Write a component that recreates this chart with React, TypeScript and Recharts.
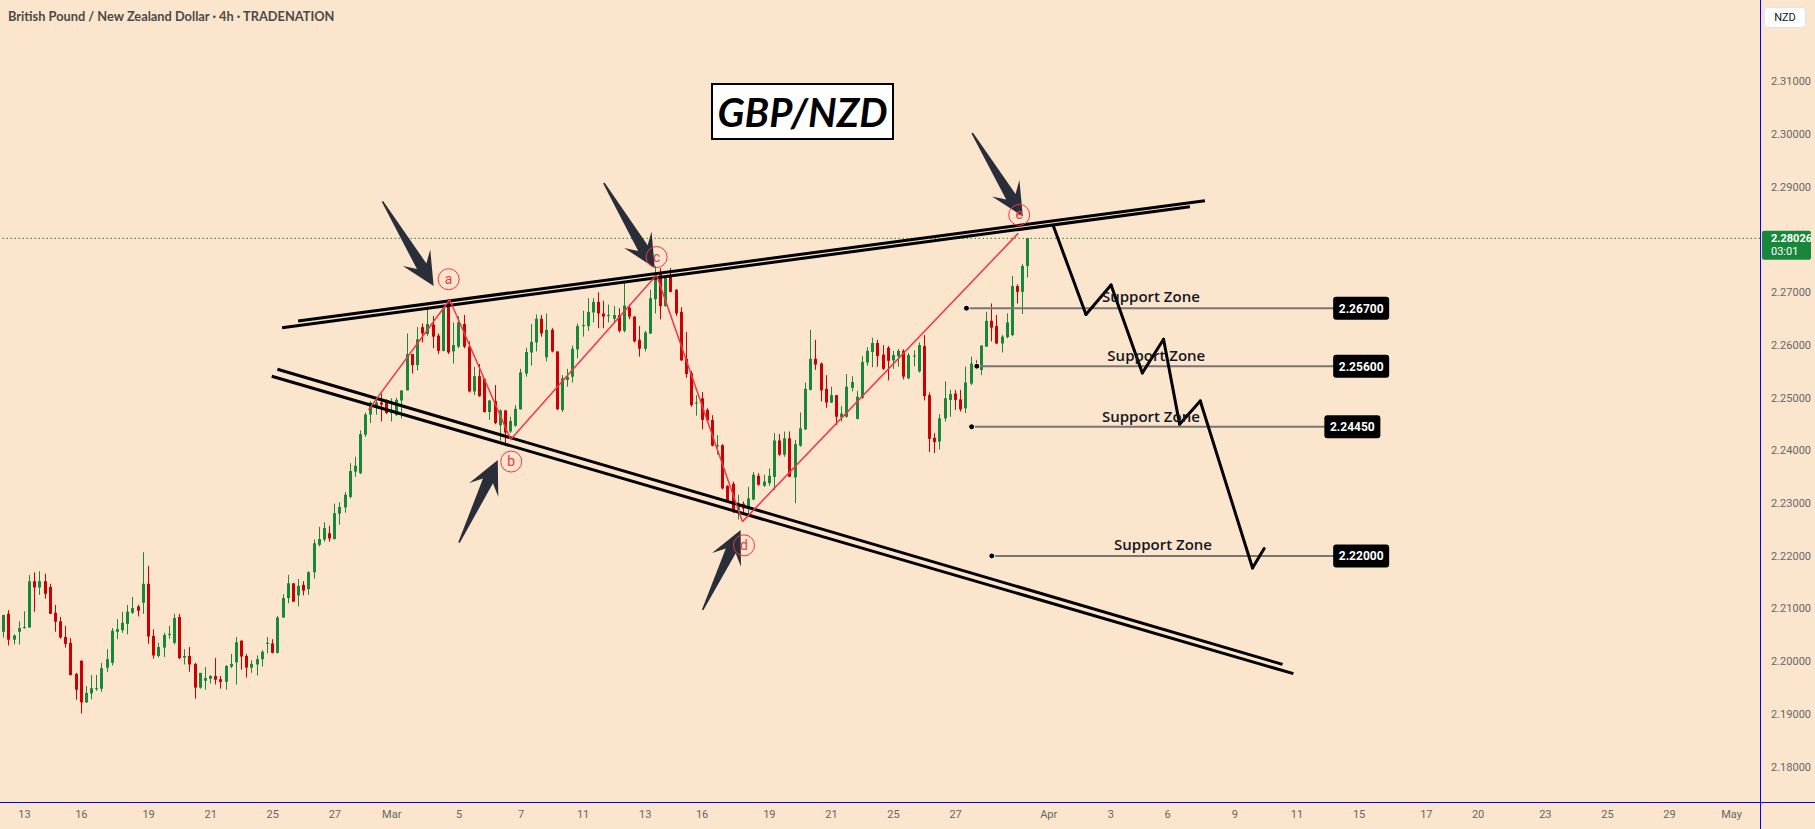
import React from 'react';
import { ComposedChart, Bar, XAxis, YAxis, ReferenceLine, ReferenceDot } from 'recharts';

// GBP/NZD 4h candles
const opens = [
  2.2001, 2.2056, 2.2090, 2.2041, 2.2056, 2.2064, 2.2064, 2.2152, 2.2140, 2.2152,
  2.2141, 2.2092, 2.2076, 2.2046, 2.2035, 2.1976, 2.2001, 2.1922, 2.1939, 2.1947,
  2.1948, 2.1988, 2.1997, 2.2056, 2.2059, 2.2071, 2.2092, 2.2104, 2.2111, 2.2147,
  2.2048, 2.2010, 2.2026, 2.2051, 2.2035, 2.2084, 2.2007, 2.2010, 2.1995, 2.1950,
  2.1963, 2.1967, 2.1972, 2.1966, 2.1961, 2.1990, 2.1998, 2.2039, 2.2010, 2.1988,
  2.1994, 2.2004, 2.2033, 2.2034, 2.2016, 2.2083, 2.2120, 2.2148, 2.2125, 2.2145,
  2.2137, 2.2169, 2.2221, 2.2231, 2.2243, 2.2232, 2.2280, 2.2292, 2.2312, 2.2360,
  2.2357, 2.2430, 2.2468, 2.2482, 2.2491, 2.2492, 2.2471, 2.2467, 2.2495, 2.2514,
  2.2583, 2.2562, 2.2634, 2.2621, 2.2639, 2.2618, 2.2589, 2.2683, 2.2588, 2.2597,
  2.2640, 2.2597, 2.2512, 2.2541, 2.2536, 2.2473, 2.2494, 2.2448, 2.2476, 2.2436,
  2.2447, 2.2478, 2.2546, 2.2586, 2.2605, 2.2650, 2.2577, 2.2629, 2.2588, 2.2477,
  2.2534, 2.2540, 2.2592, 2.2637, 2.2636, 2.2662, 2.2682, 2.2660, 2.2655, 2.2650,
  2.2657, 2.2627, 2.2671, 2.2654, 2.2610, 2.2593, 2.2622, 2.2687, 2.2735, 2.2674,
  2.2730, 2.2705, 2.2663, 2.2574, 2.2547, 2.2490, 2.2499, 2.2477, 2.2458, 2.2409,
  2.2410, 2.2333, 2.2337, 2.2287, 2.2299, 2.2290, 2.2307, 2.2352, 2.2333, 2.2338,
  2.2350, 2.2419, 2.2392, 2.2423, 2.2349, 2.2409, 2.2440, 2.2515, 2.2574, 2.2565,
  2.2517, 2.2491, 2.2505, 2.2463, 2.2464, 2.2519, 2.2460, 2.2500, 2.2567, 2.2587,
  2.2604, 2.2582, 2.2595, 2.2571, 2.2579, 2.2589, 2.2537, 2.2579, 2.2550, 2.2598,
  2.2505, 2.2424, 2.2417, 2.2461, 2.2496, 2.2508, 2.2497, 2.2480, 2.2527, 2.2565,
  2.2553, 2.2597, 2.2646, 2.2636, 2.2603, 2.2615, 2.2619, 2.2712, 2.2701, 2.2750,
];
const highs = [
  2.2062, 2.2088, 2.2097, 2.2051, 2.2076, 2.2095, 2.2164, 2.2169, 2.2171, 2.2166,
  2.2147, 2.2107, 2.2084, 2.2067, 2.2044, 2.1978, 2.2002, 2.1953, 2.1974, 2.1974,
  2.1997, 2.2023, 2.2063, 2.2080, 2.2094, 2.2107, 2.2122, 2.2107, 2.2207, 2.2181,
  2.2061, 2.2035, 2.2054, 2.2067, 2.2090, 2.2090, 2.2023, 2.2027, 2.1997, 2.1978,
  2.1989, 2.1974, 2.2006, 2.1972, 2.1993, 2.2014, 2.2046, 2.2040, 2.2014, 2.2002,
  2.2011, 2.2021, 2.2046, 2.2042, 2.2086, 2.2127, 2.2164, 2.2148, 2.2156, 2.2152,
  2.2171, 2.2231, 2.2255, 2.2264, 2.2257, 2.2299, 2.2302, 2.2321, 2.2376, 2.2388,
  2.2438, 2.2472, 2.2493, 2.2500, 2.2508, 2.2497, 2.2499, 2.2500, 2.2514, 2.2622,
  2.2583, 2.2634, 2.2641, 2.2669, 2.2655, 2.2622, 2.2670, 2.2687, 2.2643, 2.2655,
  2.2657, 2.2607, 2.2559, 2.2564, 2.2537, 2.2495, 2.2524, 2.2478, 2.2477, 2.2464,
  2.2486, 2.2555, 2.2595, 2.2640, 2.2658, 2.2657, 2.2660, 2.2632, 2.2588, 2.2543,
  2.2555, 2.2599, 2.2641, 2.2665, 2.2689, 2.2689, 2.2700, 2.2684, 2.2677, 2.2674,
  2.2670, 2.2721, 2.2677, 2.2655, 2.2636, 2.2627, 2.2705, 2.2750, 2.2746, 2.2731,
  2.2746, 2.2706, 2.2672, 2.2625, 2.2551, 2.2505, 2.2511, 2.2480, 2.2467, 2.2429,
  2.2412, 2.2334, 2.2341, 2.2316, 2.2303, 2.2331, 2.2359, 2.2357, 2.2354, 2.2366,
  2.2433, 2.2431, 2.2436, 2.2436, 2.2420, 2.2472, 2.2529, 2.2629, 2.2610, 2.2567,
  2.2543, 2.2521, 2.2505, 2.2484, 2.2545, 2.2541, 2.2513, 2.2579, 2.2596, 2.2614,
  2.2610, 2.2600, 2.2598, 2.2589, 2.2593, 2.2592, 2.2585, 2.2590, 2.2605, 2.2619,
  2.2510, 2.2433, 2.2469, 2.2531, 2.2515, 2.2515, 2.2515, 2.2559, 2.2578, 2.2571,
  2.2600, 2.2663, 2.2679, 2.2657, 2.2619, 2.2660, 2.2731, 2.2715, 2.2754, 2.2803,
];
const lows = [
  2.1996, 2.2045, 2.2030, 2.2032, 2.2032, 2.2062, 2.2064, 2.2094, 2.2126, 2.2119,
  2.2090, 2.2056, 2.2043, 2.2026, 2.1973, 2.1927, 2.1901, 2.1921, 2.1928, 2.1944,
  2.1942, 2.1980, 2.1992, 2.2042, 2.2054, 2.2051, 2.2090, 2.2085, 2.2090, 2.2033,
  2.2005, 2.2007, 2.2008, 2.2043, 2.2032, 2.2004, 2.1994, 2.1980, 2.1929, 2.1948,
  2.1946, 2.1958, 2.1956, 2.1948, 2.1946, 2.1987, 2.1956, 2.1984, 2.1969, 2.1978,
  2.1973, 2.1990, 2.2015, 2.2015, 2.2015, 2.2083, 2.2110, 2.2113, 2.2104, 2.2125,
  2.2126, 2.2157, 2.2218, 2.2227, 2.2227, 2.2231, 2.2259, 2.2282, 2.2309, 2.2350,
  2.2355, 2.2426, 2.2452, 2.2468, 2.2455, 2.2469, 2.2455, 2.2466, 2.2461, 2.2514,
  2.2546, 2.2552, 2.2605, 2.2617, 2.2594, 2.2583, 2.2588, 2.2583, 2.2565, 2.2594,
  2.2594, 2.2510, 2.2505, 2.2502, 2.2472, 2.2458, 2.2450, 2.2419, 2.2409, 2.2433,
  2.2445, 2.2478, 2.2540, 2.2561, 2.2588, 2.2616, 2.2569, 2.2586, 2.2477, 2.2473,
  2.2521, 2.2529, 2.2575, 2.2616, 2.2627, 2.2643, 2.2632, 2.2632, 2.2643, 2.2641,
  2.2624, 2.2624, 2.2649, 2.2605, 2.2578, 2.2588, 2.2621, 2.2660, 2.2649, 2.2673,
  2.2700, 2.2655, 2.2570, 2.2538, 2.2483, 2.2466, 2.2440, 2.2453, 2.2408, 2.2392,
  2.2326, 2.2303, 2.2281, 2.2269, 2.2281, 2.2278, 2.2306, 2.2333, 2.2331, 2.2333,
  2.2325, 2.2390, 2.2388, 2.2350, 2.2300, 2.2407, 2.2439, 2.2514, 2.2553, 2.2493,
  2.2481, 2.2490, 2.2448, 2.2455, 2.2462, 2.2512, 2.2459, 2.2498, 2.2561, 2.2558,
  2.2559, 2.2553, 2.2533, 2.2555, 2.2559, 2.2535, 2.2535, 2.2560, 2.2548, 2.2495,
  2.2397, 2.2395, 2.2402, 2.2455, 2.2464, 2.2477, 2.2474, 2.2471, 2.2524, 2.2556,
  2.2543, 2.2597, 2.2607, 2.2602, 2.2586, 2.2613, 2.2617, 2.2679, 2.2659, 2.2728,
];
const closes = [
  2.2058, 2.2088, 2.2041, 2.2049, 2.2063, 2.2065, 2.2152, 2.2140, 2.2152, 2.2128,
  2.2090, 2.2075, 2.2045, 2.2033, 2.1974, 2.1946, 2.1922, 2.1940, 2.1949, 2.1949,
  2.1987, 2.2004, 2.2058, 2.2061, 2.2073, 2.2094, 2.2101, 2.2096, 2.2147, 2.2047,
  2.2011, 2.2027, 2.2050, 2.2052, 2.2082, 2.2006, 2.2010, 2.1994, 2.1950, 2.1978,
  2.1968, 2.1972, 2.1965, 2.1961, 2.1991, 2.1995, 2.2036, 2.2009, 2.1988, 2.1995,
  2.2004, 2.2018, 2.2035, 2.2016, 2.2083, 2.2120, 2.2148, 2.2113, 2.2143, 2.2134,
  2.2169, 2.2224, 2.2232, 2.2253, 2.2233, 2.2281, 2.2293, 2.2316, 2.2361, 2.2371,
  2.2431, 2.2468, 2.2491, 2.2491, 2.2487, 2.2471, 2.2474, 2.2496, 2.2514, 2.2583,
  2.2562, 2.2611, 2.2622, 2.2640, 2.2616, 2.2589, 2.2670, 2.2586, 2.2600, 2.2643,
  2.2597, 2.2512, 2.2541, 2.2503, 2.2473, 2.2495, 2.2452, 2.2476, 2.2434, 2.2456,
  2.2479, 2.2548, 2.2587, 2.2606, 2.2650, 2.2622, 2.2629, 2.2588, 2.2478, 2.2537,
  2.2540, 2.2593, 2.2636, 2.2638, 2.2663, 2.2682, 2.2660, 2.2654, 2.2657, 2.2657,
  2.2627, 2.2675, 2.2654, 2.2607, 2.2593, 2.2624, 2.2689, 2.2736, 2.2674, 2.2730,
  2.2701, 2.2660, 2.2571, 2.2545, 2.2486, 2.2491, 2.2458, 2.2457, 2.2409, 2.2410,
  2.2328, 2.2306, 2.2287, 2.2299, 2.2290, 2.2309, 2.2354, 2.2335, 2.2341, 2.2352,
  2.2419, 2.2392, 2.2423, 2.2350, 2.2412, 2.2442, 2.2517, 2.2574, 2.2563, 2.2514,
  2.2491, 2.2505, 2.2464, 2.2470, 2.2521, 2.2530, 2.2502, 2.2568, 2.2589, 2.2604,
  2.2579, 2.2555, 2.2570, 2.2581, 2.2589, 2.2540, 2.2581, 2.2580, 2.2600, 2.2503,
  2.2422, 2.2416, 2.2461, 2.2499, 2.2507, 2.2496, 2.2478, 2.2529, 2.2565, 2.2559,
  2.2599, 2.2646, 2.2633, 2.2603, 2.2616, 2.2643, 2.2712, 2.2701, 2.2750, 2.2803,
];

const SLOTS = 341; // candle slots incl. empty future space
const timeTicks = [5, 16, 29, 41, 53, 65, 76, 89, 101, 113, 125, 136, 149, 161, 173, 185, 203, 215, 226, 239, 251, 263, 276, 286, 299, 311, 323, 335];
const timeLabels = ['13', '16', '19', '21', '25', '27', 'Mar', '5', '7', '11', '13', '16', '19', '21', '25', '27', 'Apr', '3', '6', '9', '11', '15', '17', '20', '23', '25', '29', 'May'];
const priceTicks = [2.18, 2.19, 2.2, 2.21, 2.22, 2.23, 2.24, 2.25, 2.26, 2.27, 2.29, 2.3, 2.31];
const lastPrice = 2.28026;

// drawings (bar index, price)
const channelLines = [
  [54.8, 2.2633, 230.3, 2.28626],
  [57.9, 2.26457, 233.2, 2.2874],
  [53.9, 2.25541, 248.2, 2.19941],
  [52.8, 2.25408, 250.3, 2.19765],
];
const waveX = [71.5, 87.2, 99.0, 127.2, 143.8, 197.1];
const waveY = [2.2477, 2.2686, 2.2421, 2.2733, 2.2265, 2.2812];
const waveLetters = ['a', 'b', 'c', 'd', 'e'];
const letterX = [87.0, 99.1, 127.2, 144.1, 197.3];
const letterY = [2.2725, 2.2379, 2.2767, 2.222, 2.2847];
const arrows = [
  [74.2, 2.28727, 84.1, 2.27121],
  [89.0, 2.2225, 96.5, 2.2382],
  [117.0, 2.29076, 126.85, 2.27463],
  [136.1, 2.20973, 143.45, 2.22491],
  [188.2, 2.30025, 198.0, 2.2844],
];
const pathX = [203.9, 210.2, 215.05, 221.1, 225.2, 228.3, 232.3, 242.4, 244.65];
const pathY = [2.2826, 2.2658, 2.2714, 2.2547, 2.2611, 2.245, 2.2494, 2.2177, 2.2214];
const supportLevels = [2.267, 2.256, 2.2445, 2.22];
const supportStart = [187.1, 189.1, 188.1, 192.0];
const supportBox = [263.4, 263.4, 261.7, 263.4];
const supportTextX = [222.75, 223.8, 222.75, 225.1];
const supportTextY = [2.2691, 2.2579, 2.2464, 2.2221];

const BG = '#fce5cd';
const UP = '#17873a';
const DOWN = '#cc0000';
const WAVE = '#f23645';
const ARROW = '#2a2e39';

const rows = Array.from({ length: SLOTS }, (_, i) =>
  i < opens.length
    ? { i, o: opens[i], h: highs[i], l: lows[i], c: closes[i], range: [lows[i], highs[i]] }
    : { i, range: null }
);

const Candle = (props: any) => {
  const { x, y, width, height, payload } = props;
  if (!payload || payload.o == null || isNaN(y)) return null;
  const { o, h, l, c } = payload;
  const color = c >= o ? UP : DOWN;
  const top = Math.min(y, y + height);
  const span = Math.abs(height);
  const k = span / (h - l || 1e-9);
  const bTop = top + (h - Math.max(o, c)) * k;
  const bBot = top + (h - Math.min(o, c)) * k;
  const bx = Math.round(x + width / 2 - 1.5);
  return (
    <g>
      <line x1={bx + 1.5} x2={bx + 1.5} y1={top} y2={top + span} stroke={color} strokeWidth={1} />
      <rect x={bx} y={bTop} width={3} height={Math.max(1, bBot - bTop)} fill={color} />
    </g>
  );
};

const arrowShape = (props: any) => {
  const { x1, y1, x2, y2 } = props;
  const dx = x2 - x1;
  const dy = y2 - y1;
  const L = Math.hypot(dx, dy);
  const ux = dx / L, uy = dy / L, nx = -uy, ny = ux;
  const pt = (s: number, t: number) => `${x1 + ux * s + nx * t},${y1 + uy * s + ny * t}`;
  const H = 33, W = 16, w = 5.5;
  const pts = [pt(0, 0.8), pt(L - H * 0.7, w), pt(L - H, W), pt(L, 0), pt(L - H, -W), pt(L - H * 0.7, -w), pt(0, -0.8)];
  return <polygon points={pts.join(' ')} fill={ARROW} />;
};

export default function App() {
  return (
    <div style={{ position: 'relative', width: 1815, height: 829, overflow: 'hidden', background: BG, fontFamily: 'Roboto, sans-serif' }}>
      <style>{'body{margin:0}'}</style>
      <div style={{ position: 'absolute', left: -4, top: 0 }}>
        <ComposedChart width={1819} height={829} data={rows} margin={{ top: 0, right: 0, bottom: 0, left: 0 }}>
          <XAxis
            xAxisId="n"
            dataKey="i"
            type="number"
            domain={[-0.5, SLOTS - 0.5]}
            allowDataOverflow
            ticks={timeTicks}
            interval={0}
            tickFormatter={(v: number) => timeLabels[timeTicks.indexOf(v)] ?? ''}
            axisLine={false}
            tickLine={false}
            tickSize={0}
            tickMargin={8}
            height={27}
            tick={{ fill: '#666', fontSize: 11 }}
          />
          <XAxis xAxisId="c" dataKey="i" type="category" orientation="top" hide />
          <YAxis
            orientation="right"
            domain={[2.1733, 2.32548]}
            allowDataOverflow
            ticks={priceTicks}
            interval={0}
            tickFormatter={(v: number) => v.toFixed(5)}
            width={55}
            axisLine={false}
            tickLine={false}
            tickSize={0}
            tickMargin={11}
            tick={{ fill: '#666', fontSize: 11 }}
          />
          <ReferenceLine xAxisId="n" y={lastPrice} stroke={UP} strokeDasharray="1.5 2.5" strokeWidth={1} />
          <Bar xAxisId="c" dataKey="range" barSize={3} shape={<Candle />} isAnimationActive={false} />

          {channelLines.map((s, n) => (
            <ReferenceLine key={'ch' + n} xAxisId="n" ifOverflow="visible" segment={[{ x: s[0], y: s[1] }, { x: s[2], y: s[3] }]} stroke="#000" strokeWidth={3} />
          ))}
          {waveX.slice(1).map((x, n) => (
            <ReferenceLine key={'w' + n} xAxisId="n" ifOverflow="visible" segment={[{ x: waveX[n], y: waveY[n] }, { x, y: waveY[n + 1] }]} stroke={WAVE} strokeWidth={1.5} />
          ))}
          {supportLevels.map((p, n) => (
            <ReferenceLine key={'sl' + n} xAxisId="n" ifOverflow="visible" segment={[{ x: supportStart[n], y: p }, { x: supportBox[n], y: p }]} stroke="#7a7570" strokeWidth={2} />
          ))}
          {pathX.slice(1).map((x, n) => (
            <ReferenceLine key={'p' + n} xAxisId="n" ifOverflow="visible" segment={[{ x: pathX[n], y: pathY[n] }, { x, y: pathY[n + 1] }]} stroke="#000" strokeWidth={3} strokeLinecap="round" />
          ))}
          {arrows.map((a, n) => (
            <ReferenceLine key={'ar' + n} xAxisId="n" ifOverflow="visible" segment={[{ x: a[0], y: a[1] }, { x: a[2], y: a[3] }]} shape={arrowShape} />
          ))}
          {waveLetters.map((t, n) => (
            <ReferenceDot
              key={'l' + n}
              xAxisId="n"
              ifOverflow="visible"
              x={letterX[n]}
              y={letterY[n]}
              r={10.5}
              shape={(p: any) => (
                <g>
                  <circle cx={p.cx} cy={p.cy} r={10.5} fill="none" stroke={WAVE} strokeWidth={1} />
                  <text x={p.cx} y={p.cy + 4.5} textAnchor="middle" fontSize={14} fill={WAVE}>{t}</text>
                </g>
              )}
            />
          ))}
          {supportLevels.map((p, n) => (
            <ReferenceDot key={'sd' + n} xAxisId="n" ifOverflow="visible" x={supportStart[n]} y={p} r={3} fill="#000" stroke="#fff" strokeWidth={1} />
          ))}
          {supportLevels.map((p, n) => (
            <ReferenceDot
              key={'st' + n}
              xAxisId="n"
              ifOverflow="visible"
              x={supportTextX[n]}
              y={supportTextY[n]}
              r={1}
              shape={(q: any) => (
                <text x={q.cx} y={q.cy + 5} textAnchor="middle" fontSize={15} fontWeight={600} fontFamily="'Open Sans', sans-serif" fill="#131722">Support Zone</text>
              )}
            />
          ))}
          {supportLevels.map((p, n) => (
            <ReferenceDot
              key={'sb' + n}
              xAxisId="n"
              ifOverflow="visible"
              x={supportBox[n]}
              y={p}
              r={1}
              shape={(q: any) => (
                <g>
                  <rect x={q.cx - 28} y={q.cy - 11.5} width={56} height={23} rx={3} fill="#000" />
                  <text x={q.cx} y={q.cy + 4.5} textAnchor="middle" fontSize={12} fontWeight={700} fill="#fff">{p.toFixed(5)}</text>
                </g>
              )}
            />
          ))}
          <ReferenceDot
            xAxisId="n"
            ifOverflow="visible"
            x={SLOTS - 0.5}
            y={lastPrice}
            r={1}
            shape={(q: any) => (
              <g>
                <rect x={q.cx + 2} y={q.cy - 7.5} width={49} height={29} rx={2} fill={UP} />
                <text x={q.cx + 11} y={q.cy + 4} fontSize={11} fontWeight={700} fill="#fff">{lastPrice.toFixed(5)}</text>
                <text x={q.cx + 11} y={q.cy + 17} fontSize={11} fill="#fff">03:01</text>
              </g>
            )}
          />
        </ComposedChart>
      </div>

      <div style={{ position: 'absolute', left: 1760, top: 0, width: 1, height: 829, background: '#0000ff' }} />
      <div style={{ position: 'absolute', left: 0, top: 802, width: 1815, height: 1, background: '#0000ff' }} />

      <div style={{ position: 'absolute', left: 8, top: 8, fontFamily: 'Lato, sans-serif', fontSize: 12.8, fontWeight: 700, color: '#4a4a4a', whiteSpace: 'nowrap' }}>
        British Pound / New Zealand Dollar · 4h · TRADENATION
      </div>
      <div
        style={{
          position: 'absolute', left: 711, top: 83, width: 183, height: 57, boxSizing: 'border-box',
          border: '2.5px solid #000', background: '#fff', display: 'flex', alignItems: 'center', justifyContent: 'center',
          fontFamily: 'Lato, sans-serif', fontSize: 40, fontWeight: 700, fontStyle: 'italic', color: '#000',
        }}
      >
        GBP/NZD
      </div>
      <div
        style={{
          position: 'absolute', left: 1764, top: 7, width: 42, height: 21, boxSizing: 'border-box', background: '#fff',
          border: '1px solid #e0e3eb', borderRadius: 4, fontSize: 11, color: '#131722', display: 'flex', alignItems: 'center', justifyContent: 'center',
        }}
      >
        NZD
      </div>
    </div>
  );
}
